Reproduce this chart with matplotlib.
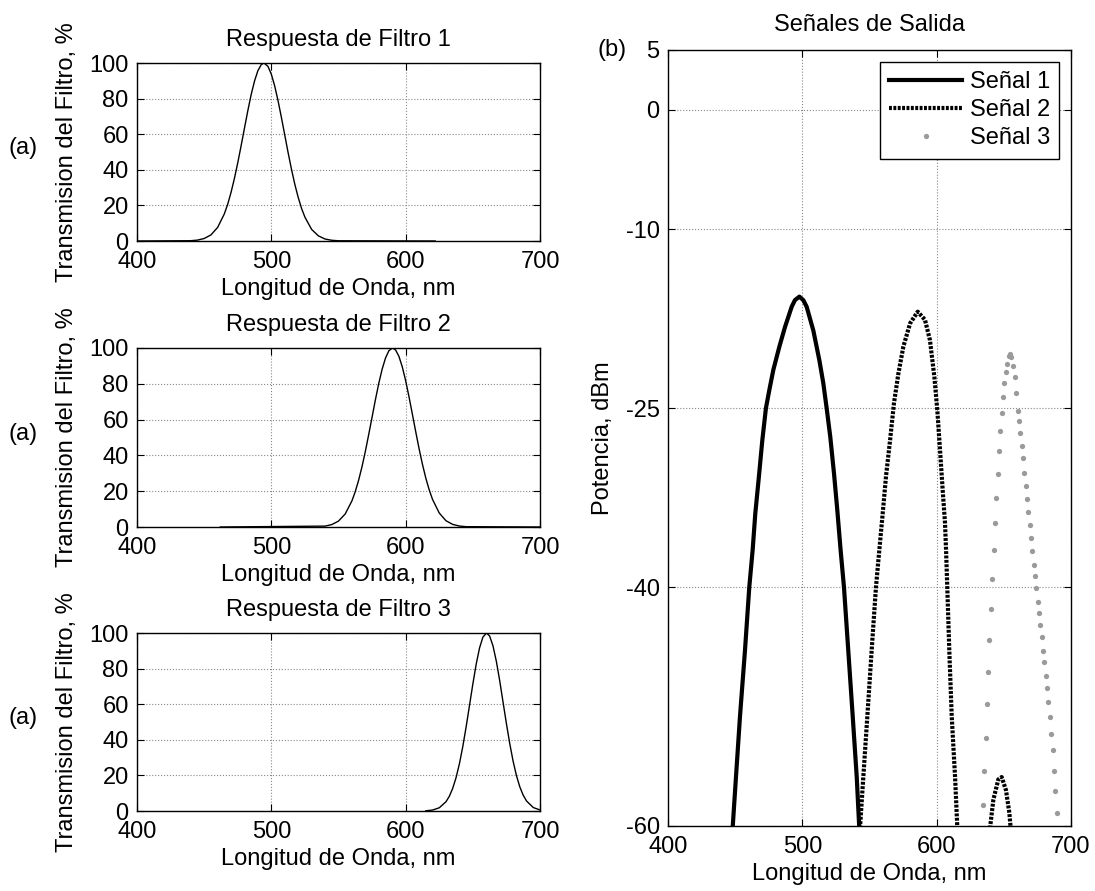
import numpy as np
import matplotlib
matplotlib.use("Agg")
import matplotlib.pyplot as plt

plt.rcParams['font.family'] = ['Liberation Sans', 'DejaVu Sans']
plt.rcParams['font.size'] = 17
plt.rcParams['axes.unicode_minus'] = False

nan = float('nan')

# filter responses (%)
f1_wl = [400, 440, 445, 450, 455, 460, 465, 467.5, 470, 472.5, 475, 477.5, 480, 482.5, 485,
         487.5, 490, 492.5, 494.5, 497.5, 500, 502.5, 505, 507.5, 510, 512.5, 515, 517.5,
         520, 522.5, 525, 530, 535, 540, 545, 550, 622]
f1_tr = [0, 0.16, 0.5, 1.4, 3.4, 7.6, 15.2, 20.6, 27.3, 35.1, 43.9, 53.5, 63.4, 73.2, 82.3,
         89.9, 95.7, 99.1, 100, 98.1, 93.7, 87.1, 78.8, 69.4, 59.5, 49.6, 40.3, 31.8,
         24.5, 18.3, 13.4, 6.5, 2.9, 1.1, 0.4, 0.13, 0]

f2_wl = [462, 540, 545, 550, 555, 560, 562.5, 565, 567.5, 570, 572.5, 575, 577.5, 580, 582.5,
         585, 587.5, 590.2, 592.5, 595, 597.5, 600, 602.5, 605, 607.5, 610, 612.5, 615, 617.5,
         620, 625, 630, 635, 640, 645, 700]
f2_tr = [0, 0.5, 1.35, 3.3, 7.3, 14.6, 19.8, 26.2, 33.7, 42.3, 51.7, 61.4, 71.2, 80.3, 88.2,
         94.4, 98.5, 100, 98.9, 95.3, 89.4, 81.7, 72.7, 63.0, 53.2, 43.7, 35.0, 27.3, 20.8,
         15.4, 7.8, 3.5, 1.45, 0.54, 0.18, 0]

f3_wl = [615, 620, 625, 630, 632.5, 635, 637.5, 640, 642.5, 645, 647.5, 650, 652.5, 655, 657.5,
         660.2, 662.5, 665, 667.5, 670, 672.5, 675, 677.5, 680, 682.5, 685, 687.5, 690, 695, 700]
f3_tr = [0.13, 0.52, 1.8, 5.2, 8.25, 12.7, 18.7, 26.5, 36.1, 47.2, 59.2, 71.3, 82.5, 91.6, 97.7,
         100, 98.3, 92.8, 84.1, 73.2, 61.1, 49.1, 37.8, 27.9, 19.8, 13.5, 8.86, 5.6, 1.95, 0.58]

filter_wl = [f1_wl, f2_wl, f3_wl]
filter_tr = [f1_tr, f2_tr, f3_tr]
filter_titles = ['Respuesta de Filtro 1', 'Respuesta de Filtro 2', 'Respuesta de Filtro 3']

# output signals (dBm)
s1_wl = [448.1, 450.6, 453.6, 457.3, 460.5, 463.0, 465.0, 467.7, 470.2, 472.9, 475.4, 478.4,
         482.9, 487.1, 492.1, 494.5, 497.8, 500.7, 503.2, 508.2, 512.7, 515.6, 518.1, 520.8,
         523.6, 526.0, 528.5, 531.0, 534.2, 537.5, 540.5, 542.4]
s1_db = [-60.2, -55.9, -50.8, -45.3, -40.0, -36.9, -33.8, -30.7, -27.7, -25.0, -23.5, -21.8,
         -19.85, -18.2, -16.5, -15.95, -15.66, -15.95, -16.5, -18.5, -21.0, -22.9, -25.0, -27.4,
         -30.5, -33.5, -36.9, -40.0, -45.3, -50.8, -55.9, -60.2]

s2_wl = [542.9, 545.4, 548.4, 551.6, 554.8, 557.3, 559.6, 562.3, 565.3, 568.2, 571.5, 575.2,
         580.2, 585.9, 591.3, 595.0, 598.3, 600.5, 602.5, 604.5, 606.2, 607.0, 607.9, 609.4,
         611.2, 613.7, 615.4, nan, 639.7, 642.2, 645.9, 648.4, 651.6, 654.1, 655.1]
s2_db = [-60.2, -55.9, -50.8, -45.3, -40.0, -36.9, -34.1, -30.7, -27.7, -24.6, -22.1, -19.85,
         -17.9, -16.92, -17.6, -19.3, -22.4, -25.2, -28.5, -31.9, -34.6, -36.9, -40.0, -45.3,
         -50.8, -55.9, -60.2, nan, -60.2, -57.8, -56.1, -55.9, -57.0, -58.9, -60.2]

s3_wl = [634.3, 635.5, 636.5, 637.5, 638.5, 639.2, 640.2, 641.2, 642.4, 643.4, 644.2, 645.4,
         646.2, 647.4, 648.4, 649.4, 650.4, 651.4, 652.6, 654.1, 654.8, 655.3, 657.1, 658.3,
         659.3, 660.3, 661.3, 662.3, 663.5, 664.5, 665.3, 666.3, 667.3, 668.2, 669.2, 670.2,
         671.2, 672.2, 673.2, 674.2, 675.2, 676.4, 677.2, 678.2, 679.2, 680.2, 681.2, 682.1,
         683.1, 684.4, 685.4, 686.4, 687.3, 688.3, 689.3]
s3_db = [-58.2, -55.4, -52.6, -49.8, -47.1, -44.4, -41.8, -39.3, -36.9, -34.6, -32.5, -30.5,
         -28.6, -26.9, -25.4, -24.1, -22.9, -22.0, -21.3, -20.6, -20.5, -20.7, -21.5, -22.4,
         -23.7, -25.2, -26.1, -27.1, -28.2, -29.2, -30.4, -31.5, -32.6, -33.7, -34.8, -35.9,
         -37.0, -38.1, -39.1, -40.1, -41.2, -42.2, -43.2, -44.2, -45.3, -46.3, -47.4, -48.4,
         -49.6, -50.9, -52.3, -53.6, -55.4, -57.1, -58.9]

W, H = 1095, 891
fig = plt.figure(figsize=(W / 100, H / 100), dpi=100)


def box(x0, y0, x1, y1):
    return [x0 / W, 1 - y1 / H, (x1 - x0) / W, (y1 - y0) / H]


def style(ax):
    ax.tick_params(direction='in', top=True, right=True, length=5, width=0.8)
    ax.tick_params(axis='x', pad=7)
    ax.tick_params(axis='y', pad=6)
    ax.grid(True, linestyle=':', color='#888888', linewidth=0.8)
    for s in ax.spines.values():
        s.set_linewidth(1.0)


left_boxes = [(137, 63, 540, 241), (137, 348, 540, 527), (137, 633, 540, 811)]
for i in range(3):
    ax = fig.add_axes(box(*left_boxes[i]))
    ax.plot(filter_wl[i], filter_tr[i], color='black', linewidth=1.0)
    ax.set_xlim(400, 700)
    ax.set_ylim(0, 100)
    ax.set_xticks([400, 500, 600, 700])
    ax.set_yticks([0, 20, 40, 60, 80, 100])
    style(ax)
    ax.set_title(filter_titles[i], pad=12, fontsize=17)
    ax.set_xlabel('Longitud de Onda, nm', labelpad=4)
    ax.set_ylabel('Transmision del Filtro, %', labelpad=8)
    yc = (left_boxes[i][1] + left_boxes[i][3]) / 2
    fig.text(23 / W, 1 - (yc - 4) / H, '(a)', ha='center', va='center')

axr = fig.add_axes(box(668, 50, 1071, 826))
axr.plot(s1_wl, s1_db, color='black', linewidth=3.0, label='Señal 1')
axr.plot(s2_wl, s2_db, color='black', linewidth=3.0, linestyle=(0, (0.7, 0.35)),
         label='Señal 2')
axr.plot(s3_wl, s3_db, linestyle='none', marker='o', markersize=3.8,
         color='#9a9a9a', markeredgecolor='none', label='Señal 3')
axr.set_xlim(400, 700)
axr.set_ylim(-60, 5)
axr.set_xticks([400, 500, 600, 700])
axr.set_yticks([-60, -40, -25, -10, 0, 5])
style(axr)
axr.set_title('Señales de Salida', pad=14, fontsize=17)
axr.set_xlabel('Longitud de Onda, nm', labelpad=4)
axr.set_ylabel('Potencia, dBm', labelpad=8)
leg = axr.legend(loc='upper right', numpoints=1, handlelength=3.1, handletextpad=0.3,
                 labelspacing=0.25, borderpad=0.4, borderaxespad=0.5, fancybox=False,
                 framealpha=1)
leg.get_frame().set_edgecolor('black')
leg.get_frame().set_linewidth(1.0)
fig.text(612 / W, 1 - 50 / H, '(b)', ha='center', va='center')

fig.savefig('out.png', dpi=100)
